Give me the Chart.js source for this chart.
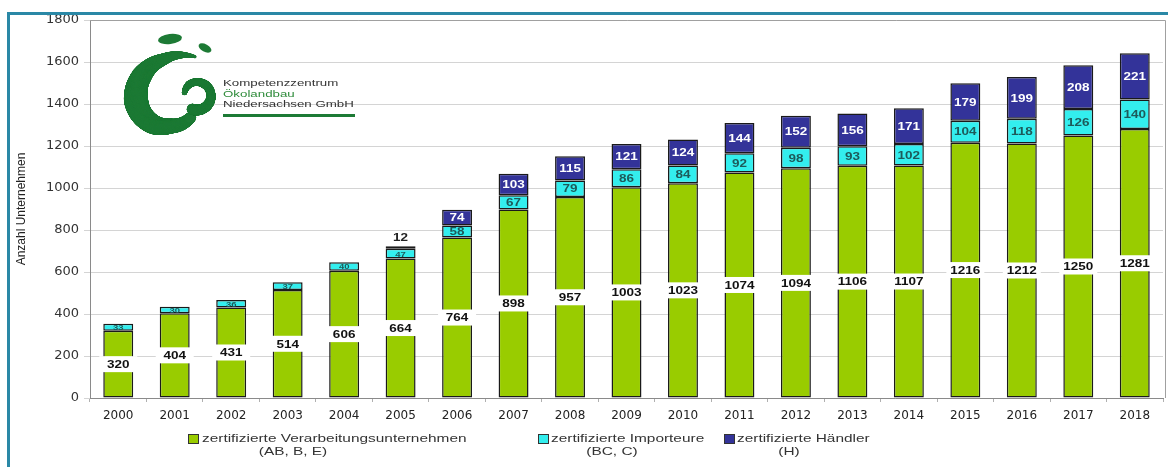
<!DOCTYPE html>
<html>
<head>
<meta charset="utf-8">
<title>Zertifizierte Unternehmen Niedersachsen</title>
<script src="https://cdn.jsdelivr.net/npm/chart.js@4.4.1/dist/chart.umd.min.js"></script>
<style>
	html, body { margin: 0; padding: 0; background: #fff; }
	#wrap { position: relative; width: 1168px; height: 467px; }
</style>
</head>
<body>
<div id="wrap"><canvas id="statsChart" width="1168" height="467"></canvas></div>
<script>
// Jahre und Anzahl der Unternehmen je Gruppe
const years = ["2000", "2001", "2002", "2003", "2004", "2005", "2006", "2007", "2008", "2009",
	"2010", "2011", "2012", "2013", "2014", "2015", "2016", "2017", "2018"];
const verarbeiter = [320, 404, 431, 514, 606, 664, 764, 898, 957, 1003, 1023, 1074, 1094, 1106, 1107, 1216, 1212, 1250, 1281];
const importeure = [33, 30, 36, 37, 40, 47, 58, 67, 79, 86, 84, 92, 98, 93, 102, 104, 118, 126, 140];
const haendler = [null, null, null, null, null, 12, 74, 103, 115, 121, 124, 144, 152, 156, 171, 179, 199, 208, 221];
const yTicks = [0, 200, 400, 600, 800, 1000, 1200, 1400, 1600, 1800];

const legendItems = [
	{ text: "zertifizierte Verarbeitungsunternehmen", sub: "(AB, B, E)", color: "#99cc00" },
	{ text: "zertifizierte Importeure", sub: "(BC, C)", color: "#33eeee" },
	{ text: "zertifizierte Händler", sub: "(H)", color: "#333399" },
];

// Text horizontal gestreckt zeichnen (Original ist breit gezogen)
function wideText(ctx, text, x, y, align, stretch) {
	ctx.save();
	ctx.translate(x, y);
	ctx.scale(stretch || 1.4, 1);
	ctx.textAlign = align || "left";
	ctx.fillText(text, 0, 0);
	ctx.restore();
}

// Logo-Bogen: Kreise entlang einer Spirale stempeln
// keys: [Winkel in Grad, Radius, Strichbreite]
function stampArc(ctx, cx, cy, keys) {
	const steps = 120;
	for (let k = 0; k < keys.length - 1; k++) {
		const [a0, r0, w0] = keys[k];
		const [a1, r1, w1] = keys[k + 1];
		for (let s = 0; s <= steps; s++) {
			const t = s / steps;
			const a = ((a0 + (a1 - a0) * t) * Math.PI) / 180;
			const r = r0 + (r1 - r0) * t;
			const w = w0 + (w1 - w0) * t;
			ctx.beginPath();
			ctx.arc(cx + r * Math.cos(a), cy + r * Math.sin(a), w / 2, 0, Math.PI * 2);
			ctx.fill();
		}
	}
}

// Rahmen, Logo und Legende
const decor = {
	id: "decor",
	beforeDraw(chart) {
		const ctx = chart.ctx;
		ctx.save();
		ctx.fillStyle = "#fff";
		ctx.fillRect(0, 0, chart.width, chart.height);
		ctx.restore();
	},
	beforeDatasetsDraw(chart) {
		const ctx = chart.ctx;
		const a = chart.chartArea;
		ctx.save();
		// Rahmen um die Zeichenfläche
		ctx.strokeStyle = "#a0a0a0";
		ctx.lineWidth = 1;
		ctx.beginPath();
		ctx.moveTo(a.left, a.top + 0.5);
		ctx.lineTo(a.right + 2.5, a.top + 0.5);
		ctx.lineTo(a.right + 2.5, a.bottom);
		ctx.stroke();

		// Logo
		const g = "#1d7a35";
		ctx.fillStyle = g;
		stampArc(ctx, 170, 100, [
			[-60, 50, 3],
			[-100, 41, 12],
			[-140, 37, 20],
			[-180, 34, 24],
			[-230, 30, 20],
			[-270, 26, 15],
			[-320, 27, 11],
		]);
		stampArc(ctx, 197, 96, [
			[110, 14, 11],
			[60, 14, 10],
			[0, 14, 9],
			[-60, 14, 8],
			[-120, 14, 7],
			[-165, 13, 5],
		]);
		ctx.beginPath();
		ctx.ellipse(170, 39, 12, 5, -0.12, 0, Math.PI * 2);
		ctx.fill();
		ctx.beginPath();
		ctx.ellipse(205, 48, 7, 3.8, 0.5, 0, Math.PI * 2);
		ctx.fill();

		ctx.textBaseline = "middle";
		ctx.font = "9.5px 'Liberation Sans', Arial, sans-serif";
		ctx.fillStyle = "#333";
		wideText(ctx, "Kompetenzzentrum", 223, 83);
		ctx.fillStyle = "#2e8b3a";
		wideText(ctx, "Ökolandbau", 223, 94);
		ctx.fillStyle = "#333";
		wideText(ctx, "Niedersachsen GmbH", 223, 104);
		ctx.fillStyle = g;
		ctx.fillRect(223, 114, 132, 3);
		ctx.restore();
	},
	afterDraw(chart) {
		const ctx = chart.ctx;
		ctx.save();
		// blauer Rahmen oben und links
		ctx.fillStyle = "#2a88a6";
		ctx.fillRect(7, 12, chart.width - 7, 3);
		ctx.fillRect(7, 12, 3, chart.height - 12);

		// Legende
		const pos = [
			{ box: 188, text: 202, sub: 293 },
			{ box: 538, text: 551, sub: 612 },
			{ box: 724, text: 737, sub: 789 },
		];
		ctx.font = "11px 'Liberation Sans', Arial, sans-serif";
		ctx.textBaseline = "middle";
		legendItems.forEach((item, i) => {
			const p = pos[i];
			ctx.fillStyle = item.color;
			ctx.fillRect(p.box, 434, 10, 9);
			ctx.strokeStyle = "#333";
			ctx.lineWidth = 1;
			ctx.strokeRect(p.box + 0.5, 434.5, 10, 9);
			ctx.fillStyle = "#333";
			wideText(ctx, item.text, p.text, 439);
			wideText(ctx, item.sub, p.sub, 452, "center");
		});
		ctx.restore();
	},
};

// Werte in den Balken
const valueLabels = {
	id: "valueLabels",
	afterDatasetsDraw(chart) {
		const ctx = chart.ctx;
		const bold = (px) => `bold ${px}px 'Liberation Sans', Arial, sans-serif`;
		ctx.save();
		ctx.textBaseline = "middle";
		chart.data.datasets.forEach((ds, i) => {
			const meta = chart.getDatasetMeta(i);
			meta.data.forEach((bar, j) => {
				const v = ds.data[j];
				if (v == null) return;
				const h = bar.base - bar.y;
				const x = bar.x;
				const y = (bar.y + bar.base) / 2;
				if (i === 0) {
					ctx.fillStyle = "#fff";
					ctx.fillRect(x - 19, y - 8, 38, 16);
					ctx.font = bold(10);
					ctx.fillStyle = "#111";
					wideText(ctx, String(v), x, y + 1, "center", 1.35);
				} else if (i === 1) {
					ctx.font = h < 12 ? bold(7) : bold(10);
					ctx.fillStyle = "#1d5a5a";
					wideText(ctx, String(v), x, y + 1, "center", 1.35);
				} else {
					ctx.font = bold(10);
					if (h < 14) {
						ctx.fillStyle = "#222";
						wideText(ctx, String(v), x, bar.y - 8, "center", 1.35);
					} else {
						ctx.fillStyle = "#fff";
						wideText(ctx, String(v), x, y + 1, "center", 1.35);
					}
				}
			});
		});
		ctx.restore();
	},
};

const barStyle = {
	borderColor: "#1a1a1a",
	borderWidth: 1.5,
	borderSkipped: false,
	barPercentage: 0.53,
	categoryPercentage: 1,
};

const data = {
	labels: years,
	datasets: [
		{ label: legendItems[0].text, data: verarbeiter, backgroundColor: "#99cc00", ...barStyle },
		{ label: legendItems[1].text, data: importeure, backgroundColor: "#33eeee", ...barStyle },
		{ label: legendItems[2].text, data: haendler, backgroundColor: "#333399", ...barStyle },
	],
};

const config = {
	type: "bar",
	data: data,
	options: {
		responsive: false,
		animation: false,
		devicePixelRatio: 1,
		layout: {
			padding: { top: 20, right: 5, left: 0, bottom: 0 },
		},
		plugins: {
			legend: { display: false },
			tooltip: { enabled: false },
		},
		scales: {
			x: {
				stacked: true,
				grid: {
					display: true,
					drawOnChartArea: false,
					offset: true,
					tickLength: 4,
					color: "#b0b0b0",
				},
				border: { color: "#8a8a8a" },
				ticks: {
					color: "#222",
					padding: 7,
					maxRotation: 0,
					font: { family: "'DejaVu Sans', sans-serif", size: 12 },
				},
				afterFit(scale) {
					scale.height = 69;
				},
			},
			y: {
				stacked: true,
				min: 0,
				max: 1800,
				afterBuildTicks(scale) {
					scale.ticks = yTicks.map((v) => ({ value: v }));
				},
				grid: {
					color: "#d4d4d4",
					tickLength: 6,
				},
				border: { color: "#8a8a8a" },
				ticks: {
					color: "#333",
					padding: 5,
					callback: (value) => String(value),
					font: { family: "'DejaVu Sans', sans-serif", size: 13 },
				},
				title: {
					display: true,
					text: "Anzahl Unternehmen",
					color: "#222",
					padding: { top: 14, bottom: 4 },
					font: { family: "'Liberation Sans', Arial, sans-serif", size: 12 },
				},
				afterFit(scale) {
					scale.width = 90;
				},
			},
		},
	},
	plugins: [decor, valueLabels],
};

const statsChart = new Chart(document.getElementById("statsChart"), config);
</script>
</body>
</html>
